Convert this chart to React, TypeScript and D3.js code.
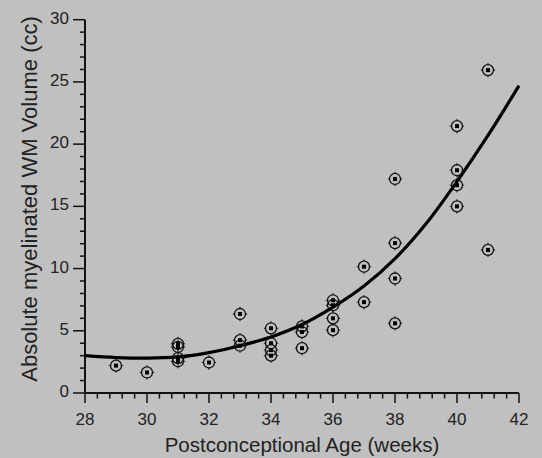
import React, { useRef, useEffect } from 'react';
import * as d3 from 'd3';

// measured points (weeks, cc)
const ages = [
  29, 30, 31, 31, 31, 31, 32, 33, 33, 33, 34, 34, 34, 34, 35, 35, 35,
  36, 36, 36, 36, 37, 37, 38, 38, 38, 38, 40, 40, 40, 40, 41, 41,
];
const volumes = [
  2.2, 1.65, 3.95, 3.7, 2.8, 2.55, 2.45, 6.35, 4.25, 3.8, 5.2, 4.0, 3.45, 3.0, 5.35, 4.9, 3.6,
  7.45, 7.05, 6.0, 5.05, 10.15, 7.3, 17.2, 12.05, 9.2, 5.6, 21.45, 17.9, 16.7, 15.0, 25.95, 11.5,
];

// fitted curve
const fitAges = [28, 29, 30, 31, 32, 33, 34, 35, 36, 37, 38, 39, 40, 41, 42];
const fitVolumes = [3.0, 2.85, 2.8, 2.9, 3.25, 3.8, 4.5, 5.5, 6.9, 8.6, 10.8, 13.6, 17.0, 20.7, 24.7];

const xMajorTicks = [28, 30, 32, 34, 36, 38, 40, 42];
const yMajorTicks = [0, 5, 10, 15, 20, 25, 30];

const xLabel = 'Postconceptional Age (weeks)';
const yLabel = 'Absolute myelinated WM Volume (cc)';

export default function App() {
  const svgRef = useRef<SVGSVGElement | null>(null);

  useEffect(() => {
    const width = 542;
    const height = 458;
    const font = '"Liberation Sans", Arial, sans-serif';
    const ink = '#111';

    d3.select(svgRef.current).selectAll('*').remove();

    const svg = d3
      .select(svgRef.current)
      .attr('width', width)
      .attr('height', height);

    svg.append('rect').attr('width', width).attr('height', height).attr('fill', '#c0c0c0');

    const x = d3.scaleLinear().domain([28, 42]).range([85, 519]);
    const y = d3.scaleLinear().domain([0, 30]).range([393, 19.7]);

    // minor ticks
    const xMinor = d3.range(28, 42.001, 0.4).filter((v) => !xMajorTicks.some((m) => Math.abs(m - v) < 0.01));
    const yMinor = d3.range(0, 30.001, 1).filter((v) => v % 5 !== 0);

    const g = svg.append('g');

    g.selectAll('.xminor')
      .data(xMinor)
      .join('line')
      .attr('x1', (d) => x(d))
      .attr('x2', (d) => x(d))
      .attr('y1', y(0))
      .attr('y2', y(0) + 5.5)
      .attr('stroke', ink)
      .attr('stroke-width', 1.5);

    g.selectAll('.xmajor')
      .data(xMajorTicks)
      .join('line')
      .attr('x1', (d) => x(d))
      .attr('x2', (d) => x(d))
      .attr('y1', y(0))
      .attr('y2', y(0) + 10)
      .attr('stroke', ink)
      .attr('stroke-width', 1.5);

    g.selectAll('.yminor')
      .data(yMinor)
      .join('line')
      .attr('x1', x(28) - 5)
      .attr('x2', x(28))
      .attr('y1', (d) => y(d))
      .attr('y2', (d) => y(d))
      .attr('stroke', ink)
      .attr('stroke-width', 1.5);

    g.selectAll('.ymajor')
      .data(yMajorTicks)
      .join('line')
      .attr('x1', x(28) - 12)
      .attr('x2', x(28))
      .attr('y1', (d) => y(d))
      .attr('y2', (d) => y(d))
      .attr('stroke', ink)
      .attr('stroke-width', 1.5);

    // axis lines
    g.append('line')
      .attr('x1', x(28)).attr('x2', x(42))
      .attr('y1', y(0)).attr('y2', y(0))
      .attr('stroke', ink).attr('stroke-width', 2);
    g.append('line')
      .attr('x1', x(28)).attr('x2', x(28))
      .attr('y1', y(30)).attr('y2', y(0))
      .attr('stroke', ink).attr('stroke-width', 2);

    // tick labels
    g.selectAll('.xlab')
      .data(xMajorTicks)
      .join('text')
      .attr('x', (d) => x(d))
      .attr('y', 425)
      .attr('text-anchor', 'middle')
      .attr('font-family', font)
      .attr('font-size', 17)
      .attr('fill', '#222')
      .text((d) => d);

    g.selectAll('.ylab')
      .data(yMajorTicks)
      .join('text')
      .attr('x', 69)
      .attr('y', (d) => y(d) + 4)
      .attr('text-anchor', 'end')
      .attr('font-family', font)
      .attr('font-size', 17)
      .attr('fill', '#222')
      .text((d) => d);

    // axis titles
    g.append('text')
      .attr('x', 302)
      .attr('y', 452)
      .attr('text-anchor', 'middle')
      .attr('font-family', font)
      .attr('font-size', 20.5)
      .attr('fill', '#222')
      .text(xLabel);

    g.append('text')
      .attr('transform', 'translate(37,199) rotate(-90)')
      .attr('text-anchor', 'middle')
      .attr('font-family', font)
      .attr('font-size', 22)
      .attr('fill', '#222')
      .text(yLabel);

    // fitted curve
    const fit = fitAges.map((a, i) => [a, fitVolumes[i]] as [number, number]);
    const line = d3
      .line<[number, number]>()
      .x((d) => x(d[0]))
      .y((d) => y(d[1]))
      .curve(d3.curveCatmullRom);

    g.append('path')
      .attr('d', line(fit))
      .attr('fill', 'none')
      .attr('stroke', '#000')
      .attr('stroke-width', 3.2);

    // markers
    const pts = ages.map((a, i) => ({ a, v: volumes[i] }));
    const marker = g
      .selectAll('.pt')
      .data(pts)
      .join('g')
      .attr('transform', (d) => `translate(${x(d.a)},${y(d.v)})`);

    marker
      .append('circle')
      .attr('r', 5.5)
      .attr('fill', 'none')
      .attr('stroke', ink)
      .attr('stroke-width', 1.3);

    marker
      .selectAll('line')
      .data([0, 90, 180, 270])
      .join('line')
      .attr('x1', (d) => 5.5 * Math.cos((d * Math.PI) / 180))
      .attr('y1', (d) => 5.5 * Math.sin((d * Math.PI) / 180))
      .attr('x2', (d) => 7.2 * Math.cos((d * Math.PI) / 180))
      .attr('y2', (d) => 7.2 * Math.sin((d * Math.PI) / 180))
      .attr('stroke', ink)
      .attr('stroke-width', 1);

    marker
      .append('rect')
      .attr('x', -2)
      .attr('y', -2)
      .attr('width', 4)
      .attr('height', 4)
      .attr('fill', '#000');
  }, []);

  return (
    <div style={{ position: 'absolute', left: 0, top: 0 }}>
      <svg ref={svgRef} style={{ display: 'block' }} />
    </div>
  );
}
